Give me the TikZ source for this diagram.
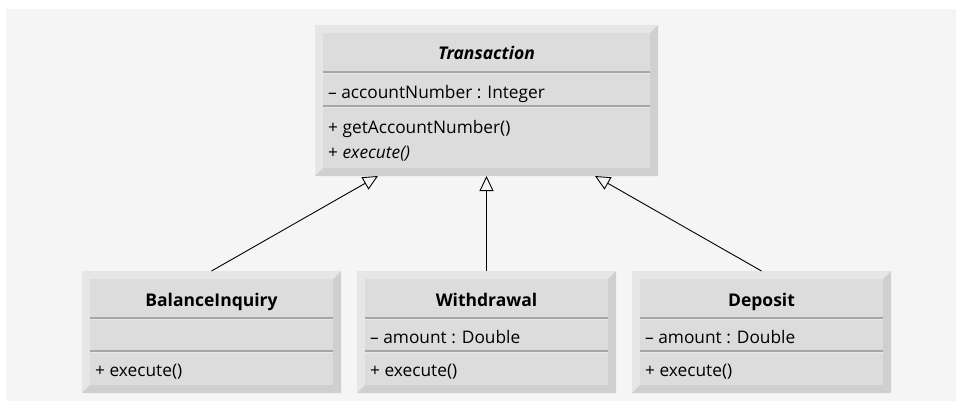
\documentclass[tikz,border=0pt]{standalone}
\usepackage{fontspec}
\setmainfont{Open Sans}
\usetikzlibrary{arrows.meta}
\definecolor{canvas}{HTML}{F5F5F5}
\definecolor{face}{HTML}{DCDCDC}
\definecolor{bevlight}{HTML}{E6E6E6}
\definecolor{bevdark}{HTML}{CFCFCF}
\definecolor{rule}{HTML}{A6A6A6}
\definecolor{rulehi}{HTML}{E8E8E8}
\tikzset{
  classbox/.style={draw=none, inner sep=0pt, outer sep=0pt},
  member/.style={anchor=base west, inner sep=0pt, font=\fontsize{17.3}{19}\selectfont},
  cname/.style={anchor=base, inner sep=0pt, font=\fontsize{17.5}{19}\selectfont\bfseries},
  inherit/.style={draw=black, line width=0.9pt,
    -{Triangle[length=15pt, width=14pt, fill=canvas, line width=0.9pt]}},
}
% bevelled class frame: name, left, top, right, bottom (8pt bevel)
\newcommand\classframe[5]{%
  \fill[bevlight] (#2,#3) -- (#4,#3) -- (#4-8,#3+8) -- (#2+8,#3+8) -- cycle;
  \fill[bevlight] (#2,#3) -- (#2+8,#3+8) -- (#2+8,#5-8) -- (#2,#5) -- cycle;
  \fill[bevdark] (#4,#3) -- (#4,#5) -- (#4-8,#5-8) -- (#4-8,#3+8) -- cycle;
  \fill[bevdark] (#2,#5) -- (#4,#5) -- (#4-8,#5-8) -- (#2+8,#5-8) -- cycle;
  \fill[face] (#2+8,#3+8) rectangle (#4-8,#5-8);
  \node[classbox, minimum width=#4-#2, minimum height=#5-#3] (#1) at ({(#2+#4)/2},{(#3+#5)/2}) {};
}
% compartment separator across the face of a class
\newcommand\compartment[3]{%
  \draw[rule, line width=1.6pt] (#1+8,#3) -- (#2-8,#3);
  \draw[rulehi, line width=0.8pt] (#1+8,#3+1.2) -- (#2-8,#3+1.2);
}
\begin{document}
\begin{tikzpicture}[x=1pt,y=-1pt]
\useasboundingbox (0,0) rectangle (957,401);
\fill[white] (0,0) rectangle (957,401);
\fill[canvas] (6,9) rectangle (956,401);

% abstract superclass
\classframe{trans}{315}{25}{658}{176}
\compartment{315}{658}{72}
\compartment{315}{658}{106}
\node[cname, font=\fontsize{17.5}{19}\selectfont\bfseries\itshape] (transname) at (486.5,60) {Transaction};
\node[member] (transattr) at (328,99) {– accountNumber : Integer};
\node[member] (transop1) at (328,133) {+ getAccountNumber()};
\node[member] (transop2) at (328,158) {+ \textit{execute()}};

% subclasses
\classframe{bi}{82}{271}{341}{393}
\compartment{82}{341}{318}
\compartment{82}{341}{351}
\node[cname] (biname) at (211.5,306) {BalanceInquiry};
\node[member] (biop) at (95,376) {+ execute()};

\classframe{wd}{357}{271}{616}{393}
\compartment{357}{616}{318}
\compartment{357}{616}{351}
\node[cname] (wdname) at (486.5,306) {Withdrawal};
\node[member] (wdattr) at (370,343) {– amount : Double};
\node[member] (wdop) at (370,376) {+ execute()};

\classframe{dep}{632}{271}{891}{393}
\compartment{632}{891}{318}
\compartment{632}{891}{351}
\node[cname] (depname) at (761.5,306) {Deposit};
\node[member] (depattr) at (645,343) {– amount : Double};
\node[member] (depop) at (645,376) {+ execute()};

% generalization arrows
\draw[inherit] (bi.north) -- ([xshift=-108.5pt]trans.south);
\draw[inherit] (wd.north) -- (trans.south);
\draw[inherit] (dep.north) -- ([xshift=108.5pt]trans.south);
\end{tikzpicture}
\end{document}
